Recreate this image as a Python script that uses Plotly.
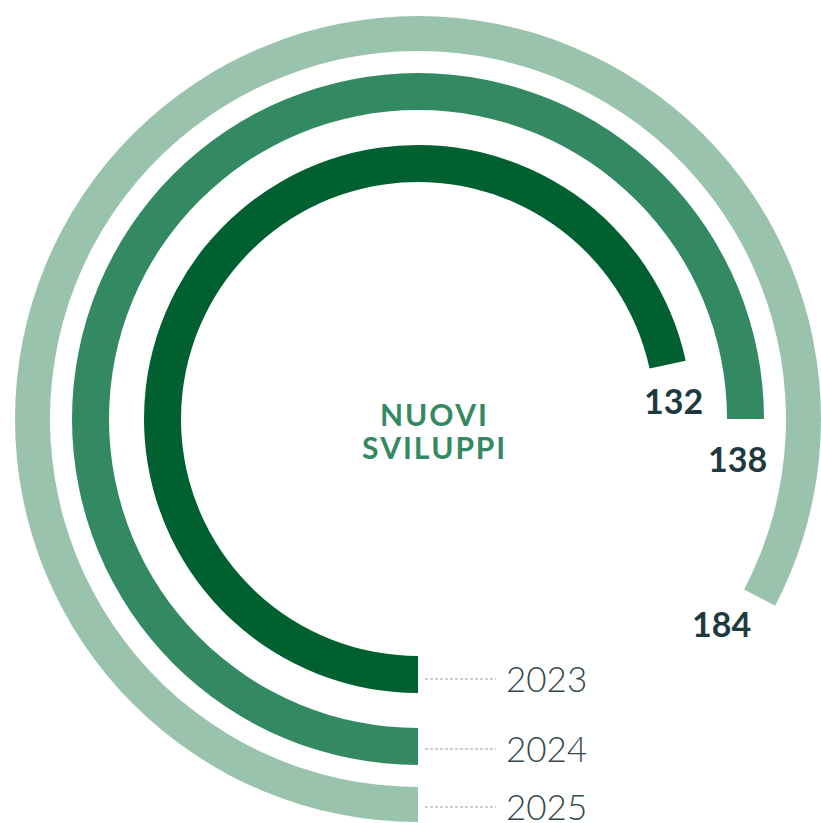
import plotly.graph_objects as go

# ---- data ----
years = ["2023", "2024", "2025"]
values = [132, 138, 184]
sweep_deg = [257.7, 270.0, 297.6]          # arc length
ring_inner = [237, 309, 368]               # ring inner radius (px units)
ring_thick = [37, 37, 37]
colors = ["#00602F", "#338A62", "#9AC3AD"]
center_title = ["NUOVI", "SVILUPPI"]

W, H = 821, 823
CX, CY, R = 418, 419, 403


def px(x):
    return x / W


def py(y):
    return 1 - y / H


fig = go.Figure()
for yr, sw, base, th, col in zip(years, sweep_deg, ring_inner, ring_thick, colors):
    fig.add_trace(go.Barpolar(
        r=[th], base=[base], theta=[sw / 2], width=[sw],
        marker=dict(color=col, line=dict(width=0)),
        name=yr, hoverinfo="skip", showlegend=False,
    ))

fig.update_layout(
    width=W, height=H, autosize=False,
    margin=dict(l=0, r=0, t=0, b=0),
    paper_bgcolor="white", plot_bgcolor="white",
    polar=dict(
        domain=dict(x=[(CX - R) / W, (CX + R) / W], y=[py(CY + R), py(CY - R)]),
        bgcolor="white",
        radialaxis=dict(range=[0, R], visible=False, showgrid=False),
        angularaxis=dict(visible=False, showgrid=False, rotation=270,
                         direction="clockwise", showline=False),
        bargap=0,
    ),
)

num_font = dict(family="Lato", size=34, color="#1F3A3E", weight="bold")
val_pos = [(673, 400), (737, 458), (721, 623)]
for v, (x, y) in zip(values, val_pos):
    fig.add_annotation(x=px(x), y=py(y), xref="paper", yref="paper", text=str(v),
                       showarrow=False, font=num_font, xanchor="center", yanchor="middle")

year_y = [678, 748, 806]
for yr, y in zip(years, year_y):
    fig.add_shape(type="line", xref="paper", yref="paper",
                  x0=px(425), x1=px(496), y0=py(y + 1), y1=py(y + 1),
                  line=dict(color="#9A9A9A", width=1, dash="3px,2px"))
    fig.add_annotation(x=px(504), y=py(y), xref="paper", yref="paper", text=yr,
                       showarrow=False, xanchor="left", yanchor="middle",
                       font=dict(family="Lato", size=35, color="#33484B", weight=300))

title_font = dict(family="Lato", size=30, color="#338A62", weight="bold")
for txt, y in zip(center_title, [414, 447]):
    fig.add_annotation(x=px(433), y=py(y), xref="paper", yref="paper",
                       text="\u200a".join(txt), showarrow=False,
                       xanchor="center", yanchor="middle", font=title_font)

fig.write_html("out.html",
               config={"displayModeBar": False, "staticPlot": True},
               post_script="document.body.style.margin='0';document.body.style.overflow='hidden';")
